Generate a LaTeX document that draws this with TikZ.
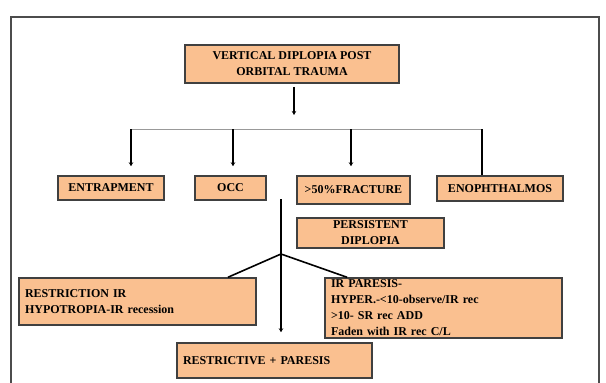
\documentclass[tikz,border=0pt]{standalone}
\usepackage{fontspec}
\setmainfont{Liberation Serif}
\usetikzlibrary{arrows.meta}

\newlength{\du}
\setlength{\du}{1\unitlength}
\definecolor{boxfill}{rgb}{0.980000, 0.752941, 0.564706}
\definecolor{boxline}{rgb}{0.250000, 0.250000, 0.250000}
\definecolor{frameline}{rgb}{0.300000, 0.300000, 0.300000}
\definecolor{busline}{rgb}{0.600000, 0.600000, 0.600000}

\begin{document}
\begin{tikzpicture}[
  stepbox/.style={draw=boxline, fill=boxfill, line width=1.5\du, inner sep=0pt,
    font=\fontsize{12}{16}\selectfont\bfseries, align=center},
  leftbox/.style={stepbox, align=left, inner xsep=6\du},
  link/.style={line width=2.3\du, -{Stealth[length=4pt,width=4.5pt]}},
  twig/.style={line width=1.6\du},
  bus/.style={line width=1\du, draw=busline}
]
\pgftransformyscale{-1.000000}
\useasboundingbox (0\du,0\du) rectangle (606\du,383\du);
\begin{scope}
\clip (0\du,0\du) rectangle (606\du,383\du);
\draw[line width=1.5\du, draw=frameline] (11\du,17\du) rectangle (599\du,400\du);
\end{scope}

% boxes
\node[stepbox, minimum width=214\du, minimum height=38\du] (trauma) at (292\du,64\du) {VERTICAL DIPLOPIA POST\\ORBITAL TRAUMA};
\node[stepbox, minimum width=106\du, minimum height=24\du] (entrap) at (111\du,188\du) {ENTRAPMENT};
\node[stepbox, minimum width=71\du, minimum height=24\du] (occ) at (230.5\du,188\du) {OCC};
\node[stepbox, minimum width=113\du, minimum height=28\du] (fract) at (353.5\du,190\du) {>50\%FRACTURE};
\node[stepbox, minimum width=126\du, minimum height=25\du] (enoph) at (500\du,188.5\du) {ENOPHTHALMOS};
\node[stepbox, minimum width=147\du, minimum height=30\du] (persist) at (370.5\du,233\du) {PERSISTENT\\DIPLOPIA};
\node[leftbox, text width=225\du, minimum height=47\du] (restr) at (137.5\du,301.5\du) {RESTRICTION IR\\HYPOTROPIA-IR recession};
\node[leftbox, text width=225\du, minimum height=60\du] (paresis) at (443.5\du,308\du) {IR PARESIS-\\HYPER.-<10-observe/IR rec\\>10- SR rec ADD\\Faden with IR rec C/L};
\node[leftbox, text width=183\du, minimum height=35\du] (both) at (274.5\du,360.5\du) {RESTRICTIVE + PARESIS};

% connectors
\coordinate (hub) at (294\du,115\du);
\coordinate (b1) at (131\du,129\du);
\coordinate (b2) at (233\du,129\du);
\coordinate (b3) at (351\du,129\du);
\coordinate (b4) at (482\du,129\du);
\draw[link, shorten <=3pt] (trauma.south -| hub) -- (hub);
\draw[bus] (b1) -- (b4);
\foreach \c/\n in {b1/entrap, b2/occ, b3/fract}
  \draw[link, shorten >=9pt] (\c) -- (\c |- \n.north);
\draw[line width=2.3\du] (b4) -- (b4 |- enoph.north);

\coordinate (stem) at (281\du,199\du);
\coordinate (split) at (281\du,254\du);
\path (restr.north) ++(90.5\du,0) coordinate (rtop);
\path (paresis.north) ++(-96.5\du,0) coordinate (ptop);
\draw[link, shorten >=10pt] (stem) -- (stem |- both.north);
\draw[twig] (split) -- (rtop);
\draw[twig] (split) -- (ptop);
\end{tikzpicture}
\end{document}
